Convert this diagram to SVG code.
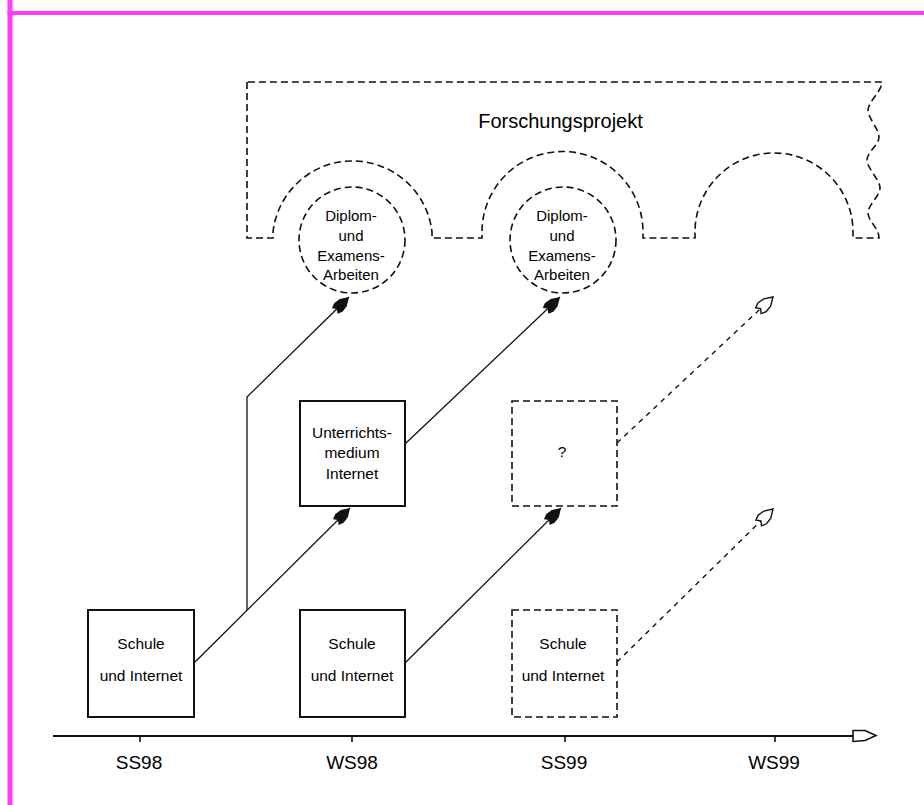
<svg xmlns="http://www.w3.org/2000/svg" width="924" height="805" viewBox="0 0 924 805">
<style>
.t{font-family:"Liberation Sans",Arial,sans-serif;fill:#000;text-anchor:middle}
.box{fill:#fff;stroke:#111;stroke-width:2}
.dbox{fill:#fff;stroke:#111;stroke-width:1.6;stroke-dasharray:7 4}
.dash{fill:none;stroke:#111;stroke-width:1.6;stroke-dasharray:7 4}
.con{fill:none;stroke:#111;stroke-width:1.3}
.dcon{fill:none;stroke:#111;stroke-width:1.4;stroke-dasharray:5 5}
</style>
<defs>
<marker id="fa" markerUnits="userSpaceOnUse" markerWidth="26" markerHeight="16" refX="0" refY="0" viewBox="-23 -8 25 16" orient="auto">
<path d="M0,0 L-8,-5 L-15,-6 L-20,-4 L-17,0 L-20,4 L-15,6 L-8,5 Z" fill="#111"/>
</marker>
<marker id="oa" markerUnits="userSpaceOnUse" markerWidth="26" markerHeight="16" refX="0" refY="0" viewBox="-23 -8 25 16" orient="auto">
<path d="M0,0 L-8,-5 L-15,-6 L-20,-4 L-17,0 L-20,4 L-15,6 L-8,5 Z" fill="#fff" stroke="#111" stroke-width="1.4"/>
</marker>
</defs>
<rect width="924" height="805" fill="#fff"/>
<rect x="7.5" y="0" width="5" height="805" fill="#ff3cff"/>
<rect x="7.5" y="11" width="917" height="4" fill="#ff3cff"/>

<g id="forschungsprojekt">
<path class="dash" d="M247,82 L247,238 L273,238 L273,232 A80,80 0 0 1 432,232 L432,238 L482,238 L482,232 A80,80 0 0 1 643,232 L643,238 L695,238 L695,232 A79,79 0 0 1 853,232 L853,238 L879,238 C879,228 868,221 868,213 S880,196 880,188 S867,168 867,160 S879,145 879,137 S868,118 868,110 S882,91 882,82 Z"/>
<text class="t" x="560.5" y="128" font-size="20">Forschungsprojekt</text>
</g>

<g id="diplom1">
<circle class="dash" cx="352" cy="240" r="53" fill="#fff"/>
<text class="t" x="351" y="221" font-size="15">Diplom-</text>
<text class="t" x="351" y="241" font-size="15">und</text>
<text class="t" x="351" y="261" font-size="15">Examens-</text>
<text class="t" x="351" y="280" font-size="15">Arbeiten</text>
</g>

<g id="diplom2">
<circle class="dash" cx="563" cy="240" r="53" fill="#fff"/>
<text class="t" x="562" y="221" font-size="15">Diplom-</text>
<text class="t" x="562" y="241" font-size="15">und</text>
<text class="t" x="562" y="261" font-size="15">Examens-</text>
<text class="t" x="562" y="280" font-size="15">Arbeiten</text>
</g>

<g id="connectors">
<polyline class="con" points="194,663 350,508" marker-end="url(#fa)"/>
<polyline class="con" points="247,610 247,397 349,297" marker-end="url(#fa)"/>
<polyline class="con" points="405,444 560,297" marker-end="url(#fa)"/>
<polyline class="con" points="405,663 561,508" marker-end="url(#fa)"/>
<polyline class="dcon" points="617,443 773,297" marker-end="url(#oa)"/>
<polyline class="dcon" points="617,662 773,509" marker-end="url(#oa)"/>
</g>

<g id="box-ss98">
<rect class="box" x="88" y="610" width="106" height="107"/>
<text class="t" x="141" y="649" font-size="15.5">Schule</text>
<text class="t" x="141" y="681" font-size="15.5">und Internet</text>
</g>

<g id="box-unterricht">
<rect class="box" x="300" y="401" width="105" height="105"/>
<text class="t" x="352" y="438" font-size="15.5">Unterrichts-</text>
<text class="t" x="352" y="458" font-size="15.5">medium</text>
<text class="t" x="352" y="479" font-size="15.5">Internet</text>
</g>

<g id="box-ws98">
<rect class="box" x="300" y="610" width="105" height="107"/>
<text class="t" x="352" y="649" font-size="15.5">Schule</text>
<text class="t" x="352" y="681" font-size="15.5">und Internet</text>
</g>

<g id="box-question">
<rect class="dbox" x="512" y="401" width="105" height="105"/>
<text class="t" x="562" y="457" font-size="15.5">?</text>
</g>

<g id="box-ss99">
<rect class="dbox" x="512" y="610" width="105" height="107"/>
<text class="t" x="563" y="649" font-size="15.5">Schule</text>
<text class="t" x="563" y="681" font-size="15.5">und Internet</text>
</g>

<g id="axis">
<line x1="53" y1="736" x2="853" y2="736" stroke="#111" stroke-width="2"/>
<path d="M853,730.5 L865,730.5 L876,735.5 L865,740.5 L853,741.5 Z" fill="#fff" stroke="#111" stroke-width="1.6"/>
<line x1="140" y1="736" x2="140" y2="742" stroke="#111" stroke-width="1.6"/>
<line x1="352" y1="736" x2="352" y2="742" stroke="#111" stroke-width="1.6"/>
<line x1="565" y1="736" x2="565" y2="742" stroke="#111" stroke-width="1.6"/>
<line x1="775" y1="736" x2="775" y2="742" stroke="#111" stroke-width="1.6"/>
<text class="t" x="139" y="769" font-size="19">SS98</text>
<text class="t" x="352" y="769" font-size="19">WS98</text>
<text class="t" x="564" y="769" font-size="19">SS99</text>
<text class="t" x="774" y="769" font-size="19">WS99</text>
</g>
</svg>
